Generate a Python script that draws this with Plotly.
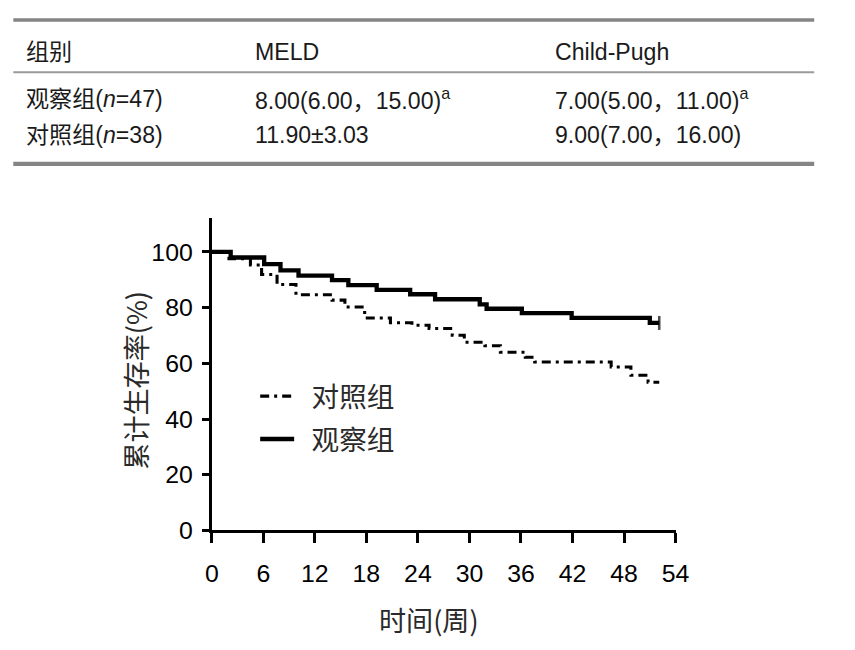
import plotly.graph_objects as go

# ---- table content ----
table_header = ["组别", "MELD", "Child-Pugh"]
table_rows = [
    ["观察组(<i>n</i>=47)", "8.00(6.00，15.00)<sup>a</sup>", "7.00(5.00，11.00)<sup>a</sup>"],
    ["对照组(<i>n</i>=38)", "11.90±3.03", "9.00(7.00，16.00)"],
]

# ---- Kaplan-Meier data (weeks, cumulative survival %) ----
obs_name = "观察组"
obs_t = [0, 2.2, 6.1, 8.0, 10.1, 14.0, 15.9, 19.2, 23.1, 26.0, 31.2, 32.0, 36.1, 41.9, 51.0, 52.1]
obs_s = [100, 98.0, 95.6, 93.4, 91.5, 89.9, 88.1, 86.4, 84.8, 83.0, 81.2, 79.6, 78.0, 76.3, 74.5, 74.5]

ctl_name = "对照组"
ctl_t = [0, 2.0, 4.5, 5.8, 7.6, 9.8, 14.0, 15.5, 17.8, 20.8, 23.3, 25.3, 28.0, 29.4, 31.8, 33.6, 36.5, 37.6, 46.5, 48.8, 50.8, 52.1]
ctl_s = [100, 97.6, 95.3, 91.9, 88.3, 84.6, 82.7, 80.2, 76.3, 74.6, 73.7, 72.5, 70.1, 67.6, 66.3, 64.0, 62.2, 60.5, 58.7, 55.7, 53.2, 53.2]

x_ticks = [0, 6, 12, 18, 24, 30, 36, 42, 48, 54]
y_ticks = [0, 20, 40, 60, 80, 100]
x_title = "时间(周)"
y_title = "累计生存率(%)"

W, H = 855, 650
# measured mapping of figure px -> photographed px: screen = offset + S * fig
S, OX, OY = 0.978, 13.7, 8.5


def px(x):
    return (x - OX) / S / W


def py(y):
    return 1 - (y - OY) / S / H


def sz(v):
    return v / S


fig = go.Figure()

fig.add_trace(go.Scatter(
    x=ctl_t, y=ctl_s, name="\u00a0\u00a0" + ctl_name, mode="lines", line_shape="hv",
    line=dict(color="black", width=sz(3.0), dash="9px,5px,3px,5px"),
    legendgroup="c",
))
obs_sizes = [0] * (len(obs_t) - 1) + [10]
fig.add_trace(go.Scatter(
    x=obs_t, y=obs_s, name="\u00a0\u00a0" + obs_name, mode="lines+markers", line_shape="hv",
    line=dict(color="black", width=sz(4.2)),
    marker=dict(symbol="line-ns", size=obs_sizes, line=dict(color="black", width=sz(2.5))),
    legendgroup="o",
))

axis_common = dict(
    showgrid=False, zeroline=False, showline=True, linecolor="black", linewidth=sz(2.7),
    ticks="outside", tickcolor="black", tickwidth=sz(2.7),
    tickfont=dict(family="Liberation Sans, Arial, sans-serif", size=sz(24.3), color="black"),
)
fig.update_xaxes(domain=[px(211), px(676)], range=[0, 54], tickvals=x_ticks, ticklen=sz(9),
                 ticklabelstandoff=10, **axis_common)
fig.update_yaxes(domain=[py(530.7), py(218.9)], range=[0, 112], tickvals=y_ticks, ticklen=sz(7),
                 ticklabelstandoff=4, **axis_common)

shapes = [
    dict(type="line", xref="paper", yref="paper", x0=px(12), x1=px(815),
         y0=py(20.5), y1=py(20.5), line=dict(color="#858585", width=sz(3.5))),
    dict(type="line", xref="paper", yref="paper", x0=px(12), x1=px(815),
         y0=py(72.7), y1=py(72.7), line=dict(color="#9a9a9a", width=sz(2))),
    dict(type="line", xref="paper", yref="paper", x0=px(12), x1=px(815),
         y0=py(164.3), y1=py(164.3), line=dict(color="#858585", width=sz(4))),
]

annotations = []
col_x = [23, 252, 553]
row_y = [52, 99, 135]
tfont = dict(family="Liberation Sans, Noto Sans CJK SC, sans-serif", size=sz(22.6), color="#1a1a1a")
for ci, txt in enumerate(table_header):
    annotations.append(dict(xref="paper", yref="paper", x=px(col_x[ci]), y=py(row_y[0]),
                            text=txt, showarrow=False, xanchor="left", yanchor="middle", font=tfont))
for ri, row in enumerate(table_rows):
    for ci, txt in enumerate(row):
        annotations.append(dict(xref="paper", yref="paper", x=px(col_x[ci]), y=py(row_y[ri + 1]),
                                text=txt, showarrow=False, xanchor="left", yanchor="middle", font=tfont))

cfont = dict(family="Noto Sans CJK SC, Liberation Sans, sans-serif", size=sz(26.5), color="#2a2a2a")
lfont = dict(family="Noto Sans CJK SC, Liberation Sans, sans-serif", size=sz(27), color="#2a2a2a")
annotations.append(dict(xref="paper", yref="paper", x=px(135), y=py(380), text=y_title,
                        textangle=-90, showarrow=False, xanchor="center", yanchor="middle", font=cfont))
annotations.append(dict(xref="paper", yref="paper", x=px(429), y=py(620), text=x_title,
                        showarrow=False, xanchor="center", yanchor="middle", font=cfont))

fig.update_layout(
    width=W, height=H, autosize=False,
    margin=dict(l=0, r=0, t=0, b=0),
    paper_bgcolor="white", plot_bgcolor="white",
    shapes=shapes, annotations=annotations,
    showlegend=True,
    legend=dict(x=px(254.5), y=py(372), xanchor="left", yanchor="top",
                bgcolor="rgba(0,0,0,0)", font=lfont, tracegroupgap=4, itemwidth=34),
)

fig.write_html("out.html")
